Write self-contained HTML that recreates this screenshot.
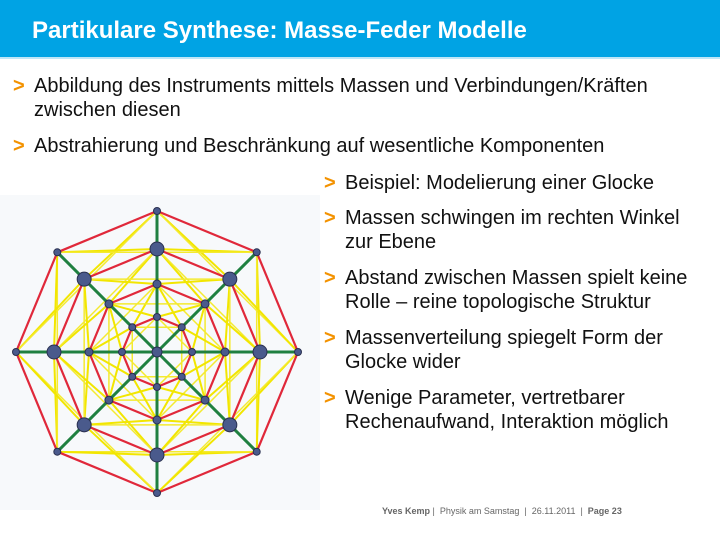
<!DOCTYPE html>
<html><head><meta charset="utf-8"><style>
body{margin:0;width:720px;height:540px;background:#fff;position:relative;overflow:hidden;font-family:"Liberation Sans",sans-serif}
.hd{position:absolute;left:0;top:0;width:720px;height:57px;background:#00a3e4;border-bottom:2px solid #bfe6f7}
.hd div{position:absolute;left:32px;top:17px;color:#fff;font-weight:bold;font-size:24px}
.b{position:absolute;font-size:20px;color:#111;line-height:24px}
.b:before{content:">";position:absolute;left:-21px;color:#f39200;font-weight:bold}
.ft{position:absolute;left:382px;top:506px;font-size:9px;color:#666}
</style></head><body>
<div class="hd"><div>Partikulare Synthese: Masse-Feder Modelle</div></div>
<div class="b" style="left:34px;top:74px">Abbildung des Instruments mittels Massen und Verbindungen/Kräften<br>zwischen diesen</div>
<div class="b" style="left:34px;top:134px">Abstrahierung und Beschränkung auf wesentliche Komponenten</div>
<div class="b" style="left:345px;top:171px">Beispiel: Modelierung einer Glocke</div>
<div class="b" style="left:345px;top:206px">Massen schwingen im rechten Winkel<br>zur Ebene</div>
<div class="b" style="left:345px;top:266px">Abstand zwischen Massen spielt keine<br>Rolle – reine topologische Struktur</div>
<div class="b" style="left:345px;top:326px">Massenverteilung spiegelt Form der<br>Glocke wider</div>
<div class="b" style="left:345px;top:386px">Wenige Parameter, vertretbarer<br>Rechenaufwand, Interaktion möglich</div>
<div class="ft"><b>Yves Kemp</b> | &nbsp;Physik am Samstag &nbsp;| &nbsp;26.11.2011 &nbsp;| &nbsp;<b>Page 23</b></div>
<svg id="g" style="position:absolute;left:0;top:195px" width="320" height="315"></svg>
<script>
var s=document.getElementById('g'),cx=157,cy=157,R=[141,103,68,35],h='<rect width="320" height="315" fill="#f7f9fb"/>';
function p(r,j){var a=-Math.PI/2+j*Math.PI/4;return[cx+r*Math.cos(a),cy+r*Math.sin(a)]}
function L(a,b,c,w){h+='<line x1="'+a[0]+'" y1="'+a[1]+'" x2="'+b[0]+'" y2="'+b[1]+'" stroke="'+c+'" stroke-width="'+w+'"/>'}
for(var i=0;i<4;i++)for(var j=0;j<8;j++){ if(i<3){L(p(R[i],j),p(R[i+1],j+1),'#f2e600',2);L(p(R[i],j),p(R[i+1],j-1),'#f2e600',2);} L(p(R[i],j),p(R[i],j+2),'#f4ea30',1.5);}
for(var i=0;i<4;i++)for(var j=0;j<8;j++)L(p(R[i],j),p(R[i],j+1),'#e0283a',2.2);
for(var j=0;j<8;j++)L([cx,cy],p(R[0],j),'#1f8040',3);
var sz=[3.5,7,4,3.5];
for(var i=0;i<4;i++)for(var j=0;j<8;j++){var q=p(R[i],j);h+='<circle cx="'+q[0]+'" cy="'+q[1]+'" r="'+sz[i]+'" fill="#4a5a8c" stroke="#2a3050"/>'}
h+='<circle cx="'+cx+'" cy="'+cy+'" r="5" fill="#4a5a8c" stroke="#2a3050"/>';
s.innerHTML=h;
</script>
</body></html>
